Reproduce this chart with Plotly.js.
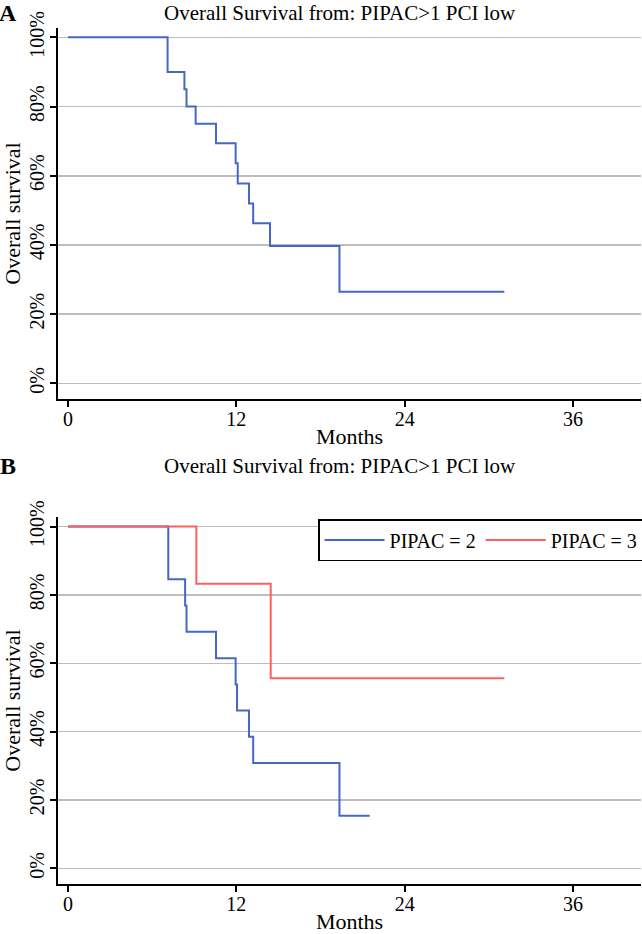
<!DOCTYPE html>
<html>
<head>
<meta charset="utf-8">
<script src="https://cdn.plot.ly/plotly-3.0.1.min.js"></script>
<style>html,body{margin:0;padding:0;background:#fff;}#chart{width:642px;height:934px;}</style>
</head>
<body>
<div id="chart"></div>
<script>
// Panel A: all patients
const timesA = [0, 7.1, 8.3, 8.45, 9.1, 10.55, 11.95, 12.1, 12.9, 13.2, 14.4, 19.35, 31.1];
const survA  = [1, 0.9, 0.85, 0.80, 0.75, 0.694, 0.636, 0.578, 0.520, 0.463, 0.397, 0.265, 0.265];
// Panel B: PIPAC = 2
const timesB2 = [0, 7.15, 8.35, 8.45, 10.55, 11.95, 12.05, 12.9, 13.2, 19.35, 21.5];
const survB2  = [1, 0.846, 0.769, 0.692, 0.615, 0.538, 0.462, 0.385, 0.308, 0.154, 0.154];
// Panel B: PIPAC = 3
const timesB3 = [0, 9.15, 14.45, 31.1];
const survB3  = [1, 0.833, 0.556, 0.556];

const seriesNames = ["PIPAC = 2", "PIPAC = 3"];
const panelTitle = "Overall Survival from: PIPAC>1 PCI low";
const xTicks = [0, 12, 24, 36];
const yTicks = [0, 0.2, 0.4, 0.6, 0.8, 1.0];

const BLUE = "#4568c4", RED = "#ff5f5f";
const FONT = "Liberation Serif, Times New Roman, serif";

const traces = [
  {x: timesA, y: survA, xaxis: "x", yaxis: "y", mode: "lines", line: {shape: "hv", color: BLUE, width: 2}, showlegend: false, name: "All"},
  {x: timesB2, y: survB2, xaxis: "x2", yaxis: "y2", mode: "lines", line: {shape: "hv", color: BLUE, width: 2}, name: seriesNames[0]},
  {x: timesB3, y: survB3, xaxis: "x2", yaxis: "y2", mode: "lines", line: {shape: "hv", color: RED, width: 2}, name: seriesNames[1]}
];

function xax(anchor) {
  return {
    anchor: anchor, range: [-0.71, 40.84], tickvals: xTicks, ticktext: xTicks.map(String),
    automargin: false,
    showline: true, linecolor: "#000", linewidth: 2, ticks: "outside", ticklen: 6, tickwidth: 2, tickcolor: "#000",
    ticklabelstandoff: -5,
    showgrid: false, zeroline: false, tickfont: {family: FONT, size: 20, color: "#000"},
    title: {text: "Months", font: {family: FONT, size: 22, color: "#000"}, standoff: 0}
  };
}
function yax(anchor, domain, range) {
  return {
    anchor: anchor, domain: domain, range: range, tickvals: yTicks, tickformat: ".0%", tickangle: -90,
    automargin: false,
    showline: true, linecolor: "#000", linewidth: 2, ticks: "outside", ticklen: 6, tickwidth: 2, tickcolor: "#000",
    ticklabelstandoff: -2,
    showgrid: true, gridcolor: "#bdbdbd", gridwidth: 1.5, zeroline: false,
    tickfont: {family: FONT, size: 20, color: "#000"},
    title: {text: "Overall survival", font: {family: FONT, size: 22, color: "#000"}, standoff: 2}
  };
}

const layout = {
  width: 642, height: 934,
  margin: {l: 58, r: 1, t: 28, b: 50, autoexpand: false},
  paper_bgcolor: "#fff", plot_bgcolor: "#fff",
  font: {family: FONT, color: "#000"},
  xaxis: xax("y"),
  yaxis: yax("x", [0.5666, 1], [-0.045, 1.027]),
  xaxis2: xax("y2"),
  yaxis2: yax("x2", [0, 0.4287], [-0.046, 1.028]),
  showlegend: true,
  legend: {
    x: 0.446, y: 0.4264, xanchor: "left", yanchor: "top", orientation: "h",
    bordercolor: "#000", borderwidth: 1.5, bgcolor: "#fff",
    font: {family: FONT, size: 20, color: "#000"}, itemwidth: 60
  },
  annotations: [
    {text: panelTitle, xref: "paper", yref: "paper", x: 0.484, y: 1.0175, xanchor: "center", yanchor: "middle", showarrow: false, font: {family: FONT, size: 21, color: "#000"}},
    {text: panelTitle, xref: "paper", yref: "paper", x: 0.484, y: 0.4883, xanchor: "center", yanchor: "middle", showarrow: false, font: {family: FONT, size: 21, color: "#000"}},
    {text: "<b>A</b>", xref: "paper", yref: "paper", x: -0.0858, y: 1.0175, xanchor: "center", yanchor: "middle", showarrow: false, font: {family: FONT, size: 24, color: "#000"}},
    {text: "<b>B</b>", xref: "paper", yref: "paper", x: -0.0858, y: 0.4883, xanchor: "center", yanchor: "middle", showarrow: false, font: {family: FONT, size: 24, color: "#000"}}
  ]
};

Plotly.newPlot("chart", traces, layout, {displayModeBar: false, staticPlot: true});
</script>
</body>
</html>
